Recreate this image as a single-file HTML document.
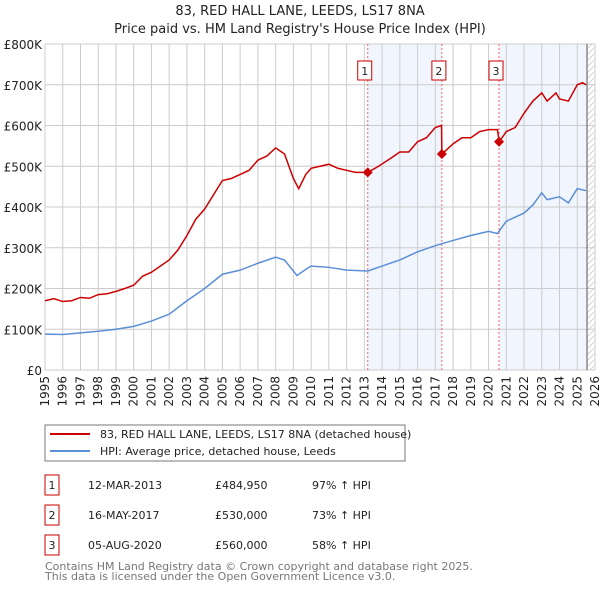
<!DOCTYPE html>
<html><head><meta charset="utf-8"><style>
body{margin:0;background:#fff;width:600px;height:590px;overflow:hidden;font-family:"DejaVu Sans","Liberation Sans",sans-serif}
svg text{font-family:"DejaVu Sans","Liberation Sans",sans-serif}
</style></head><body>
<svg id="c" width="600" height="590" xmlns="http://www.w3.org/2000/svg">
<text x="300" y="15" text-anchor="middle" font-size="13" fill="#222">83, RED HALL LANE, LEEDS, LS17 8NA</text>
<text x="300" y="33" text-anchor="middle" font-size="13" fill="#222">Price paid vs. HM Land Registry's House Price Index (HPI)</text>
<g id="bg"></g><g id="grid"></g><g id="marks"></g><g id="axes"></g>
<rect x="45" y="425" width="360" height="36" fill="#fff" stroke="#777"/>
<line x1="50" y1="434" x2="90" y2="434" stroke="#cc0000" stroke-width="2"/>
<text x="100" y="438" font-size="11" fill="#222">83, RED HALL LANE, LEEDS, LS17 8NA (detached house)</text>
<line x1="50" y1="451" x2="90" y2="451" stroke="#5b8fd6" stroke-width="2"/>
<text x="100" y="455" font-size="11" fill="#222">HPI: Average price, detached house, Leeds</text>
<g id="tbl" font-size="11" fill="#222"></g>
<text x="45" y="570" font-size="11" fill="#777">Contains HM Land Registry data © Crown copyright and database right 2025.</text>
<text x="45" y="580" font-size="11" fill="#777">This data is licensed under the Open Government Licence v3.0.</text>
</svg>
<script>
const redX=[1995,1995.5,1996,1996.5,1997,1997.5,1998,1998.5,1999,1999.5,2000,2000.5,2001,2001.5,2002,2002.5,2003,2003.5,2004,2004.5,2005,2005.5,2006,2006.5,2007,2007.5,2008,2008.5,2009,2009.3,2009.7,2010,2010.5,2011,2011.5,2012,2012.5,2013.2,2013.8,2014.5,2015,2015.5,2016,2016.5,2017,2017.35,2017.37,2018,2018.5,2019,2019.5,2020,2020.5,2020.6,2021,2021.5,2022,2022.5,2023,2023.3,2023.8,2024,2024.5,2025,2025.3,2025.5];
const redY=[170,175,168,170,178,176,185,187,193,200,208,230,240,255,270,295,330,370,395,430,465,470,480,490,515,525,545,530,470,445,480,495,500,505,495,490,485,485,500,520,535,535,560,570,595,600,530,555,570,570,585,590,590,560,585,595,630,660,680,660,680,665,660,700,705,700];
const hpiX=[1995,1996,1997,1998,1999,2000,2001,2002,2003,2004,2005,2006,2007,2008,2008.5,2009.2,2009.8,2010,2011,2012,2013.2,2014,2015,2016,2017,2018,2019,2020,2020.5,2021,2022,2022.5,2023,2023.3,2024,2024.5,2025,2025.5];
const hpiY=[88,87,91,95,100,107,120,137,170,200,235,245,262,277,270,232,250,255,252,245,243,255,270,290,305,318,330,340,335,365,385,405,435,418,425,410,445,440];
const saleX=[2013.19,2017.37,2020.59];
const saleY=[484.95,530,560];
const saleLabels=["1","2","3"];
const saleDates=["12-MAR-2013","16-MAY-2017","05-AUG-2020"];
const salePrices=["£484,950","£530,000","£560,000"];
const saleHpi=["97% ↑ HPI","73% ↑ HPI","58% ↑ HPI"];
const yTicks=[0,100,200,300,400,500,600,700,800];
const yTickLabels=["£0","£100K","£200K","£300K","£400K","£500K","£600K","£700K","£800K"];
const xYears=[1995,1996,1997,1998,1999,2000,2001,2002,2003,2004,2005,2006,2007,2008,2009,2010,2011,2012,2013,2014,2015,2016,2017,2018,2019,2020,2021,2022,2023,2024,2025,2026];
const endX=2025.55;
const X0=45,X1=595,Y0=370,Y1=44;
const xs=v=>X0+(v-1995)/(2026-1995)*(X1-X0);
const ys=v=>Y0-v/800*(Y0-Y1);
const NS="http://www.w3.org/2000/svg";
function mk(p,t,a){const e=document.createElementNS(NS,t);for(const k in a)e.setAttribute(k,a[k]);document.getElementById(p).appendChild(e);return e;}
let e;
e=mk('bg','rect',{x:xs(saleX[0]),y:Y1,width:xs(saleX[1])-xs(saleX[0]),height:Y0-Y1,fill:'#eef3fc',opacity:0.8});


e=mk('bg','rect',{x:xs(saleX[2]),y:Y1,width:xs(endX)-xs(saleX[2]),height:Y0-Y1,fill:'#eef3fc',opacity:0.8});


const defs=mk('bg','defs',{});
const pat=document.createElementNS(NS,'pattern');pat.setAttribute('id','h');pat.setAttribute('width','6');pat.setAttribute('height','6');pat.setAttribute('patternUnits','userSpaceOnUse');
const pl=document.createElementNS(NS,'path');pl.setAttribute('d','M0 6L6 0');pl.setAttribute('stroke','#ccc');pl.setAttribute('stroke-width','0.8');pat.appendChild(pl);defs.appendChild(pat);
e=mk('bg','rect',{x:xs(endX),y:Y1,width:X1-xs(endX),height:Y0-Y1,fill:'url(#h)'});


yTicks.forEach((v,i)=>{
 e=mk('grid','line',{x1:X0,x2:X1,y1:ys(v),y2:ys(v),stroke:'#ccc','stroke-width':1});
 
 
 e=mk('axes','text',{x:X0-3,y:ys(v)+5,'text-anchor':'end','font-size':'12',fill:'#222'});e.textContent=yTickLabels[i];
 
 
});
xYears.forEach(v=>{
 e=mk('grid','line',{x1:xs(v),x2:xs(v),y1:Y1,y2:Y0,stroke:'#ccc','stroke-width':1});
 
 
 e=mk('axes','text',{x:0,y:0,'text-anchor':'end','font-size':'12',fill:'#222',transform:`translate(${xs(v)+4},${Y0+6}) rotate(-90)`});e.textContent=v;
 
 
});
e=mk('grid','line',{x1:xs(endX),x2:xs(endX),y1:Y1,y2:Y0,stroke:'#555','stroke-width':1});


saleX.forEach((v,i)=>{
 e=mk('marks','line',{x1:xs(v),x2:xs(v),y1:Y1,y2:Y0,stroke:'#e66','stroke-width':1,'stroke-dasharray':'2,2'});
 
 
 e=mk('marks','rect',{x:xs(v)-10,y:61,width:14,height:19,fill:'#fff',stroke:'#c00'});
 
 
 e=mk('marks','text',{x:xs(v)-3,y:75,'text-anchor':'middle','font-size':'11',fill:'#222'});e.textContent=saleLabels[i];
 
 
});
e=mk('marks','polyline',{points:hpiX.map((x,i)=>xs(x)+','+ys(hpiY[i])).join(' '),fill:'none',stroke:'#5b8fd6','stroke-width':1.5});


e=mk('marks','polyline',{points:redX.map((x,i)=>xs(x)+','+ys(redY[i])).join(' '),fill:'none',stroke:'#cc0000','stroke-width':1.5});


saleX.forEach((v,i)=>{
 const cx=xs(v),cy=ys(saleY[i]);
 e=mk('marks','polygon',{points:`${cx},${cy-5} ${cx+5},${cy} ${cx},${cy+5} ${cx-5},${cy}`,fill:'#cc0000'});
 
 
});
saleLabels.forEach((l,i)=>{
 const y=475+i*30;
 e=mk('tbl','rect',{x:45,y:y,width:14,height:20,fill:'#fff',stroke:'#c00'});
 
 
 const cells=[[52,l,'middle'],[88,saleDates[i],'start'],[215,salePrices[i],'start'],[312,saleHpi[i],'start']];
 cells.forEach(c=>{
  e=mk('tbl','text',{x:c[0],y:y+14,'text-anchor':c[2]});e.textContent=c[1];
  
  
 });
});
</script>
</body></html>
